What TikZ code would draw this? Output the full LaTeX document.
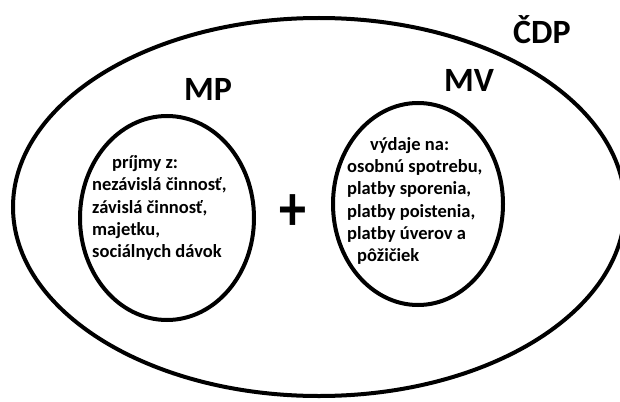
\documentclass[tikz,border=0pt]{standalone}
\usepackage{fontspec}
\setmainfont{Carlito}
\begin{document}
\begin{tikzpicture}[x=1pt,y=-1pt,
  ring/.style={draw=black,line width=4pt},
  body/.style={font=\fontsize{18.5}{22.2}\selectfont\bfseries,align=left,inner sep=0pt,text=black},
  big/.style={font=\fontsize{34}{34}\selectfont\bfseries,inner sep=0pt}]
\useasboundingbox (0,0) rectangle (620,401);
\draw[ring] (319,207) ellipse [x radius=306, y radius=189];
\draw[ring] (167,218) ellipse [x radius=87, y radius=102];
\draw[ring] (418,204) ellipse [x radius=85, y radius=101];
\node[big] (cdp) at (542,30) {ČDP};
\node[big] (mp) at (208,89) {MP};
\node[big] (mv) at (469,80) {MV};
\node[font=\fontsize{54}{54}\selectfont\bfseries,inner sep=0pt] (plus) at (293,213) {\scalebox{1}[1.2]{+}};
\node[body,anchor=west] (left) at (92,208) {\hspace*{20pt}príjmy z:\\nezávislá činnosť,\\závislá činnosť,\\majetku,\\sociálnych dávok};
\node[body,anchor=west] (right) at (347,201) {\hspace*{23pt}výdaje na:\\osobnú spotrebu,\\platby sporenia,\\platby poistenia,\\platby úverov a\\\hspace*{10pt}pôžičiek};
\end{tikzpicture}
\end{document}
